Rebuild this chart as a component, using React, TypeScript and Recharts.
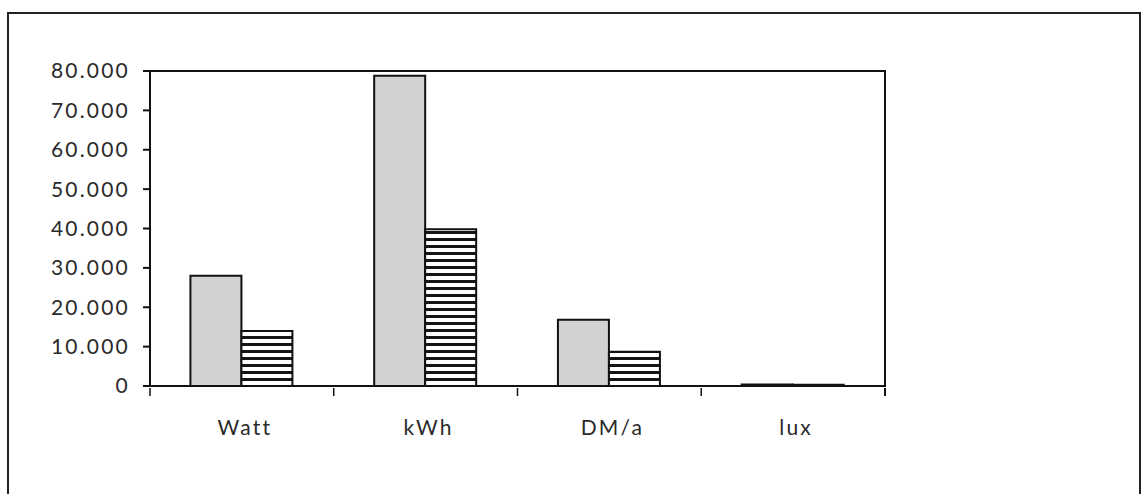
import React from 'react';
import { BarChart, Bar, XAxis, YAxis, CartesianGrid, ReferenceArea } from 'recharts';

const categories = ['Watt', 'kWh', 'DM/a', 'lux'];
const seriesGray = [28000, 78800, 16800, 400];
const seriesHatched = [14000, 39800, 8700, 300];
const yTicks = [0, 10000, 20000, 30000, 40000, 50000, 60000, 70000, 80000];

const data = categories.map((c, i) => ({ cat: c, a: seriesGray[i], b: seriesHatched[i] }));

const fmt = (v: number) => String(v).replace(/\B(?=(\d{3})+(?!\d))/g, '.');

const FONT = 'Lato, "Open Sans", sans-serif';
const tickStyle = { fontSize: 21, fill: '#2a2a2a', fontFamily: FONT, letterSpacing: 2.2 };

const CatTick = (props: any) => {
  const { x, y, payload, index, visibleTicksCount } = props;
  const half = payload.offset || 0;
  const last = index === (visibleTicksCount ?? 4) - 1;
  return (
    <g>
      <line x1={x - half} x2={x - half} y1={y} y2={y + 8} stroke="#111" strokeWidth={1.5} />
      {last && <line x1={x + half} x2={x + half} y1={y} y2={y + 8} stroke="#111" strokeWidth={2} />}
      <text
        x={x + 3}
        y={y + 32}
        dy="0.71em"
        textAnchor="middle"
        fontSize={21}
        fontFamily={FONT}
        letterSpacing={2.2}
        fill="#2a2a2a"
      >
        {payload.value}
      </text>
    </g>
  );
};

export default function App() {
  return (
    <div style={{ position: 'absolute', left: 0, top: 0, width: 1143, height: 494, background: '#fff', overflow: 'hidden' }}>
      <div
        style={{
          position: 'absolute',
          left: 7,
          top: 12,
          width: 1134,
          height: 520,
          border: '2px solid #222',
          boxSizing: 'border-box',
        }}
      />
      <div style={{ position: 'absolute', left: 0, top: 0 }}>
        <BarChart
          width={1143}
          height={494}
          data={data}
          margin={{ top: 71, right: 256, bottom: 78, left: 0 }}
          barCategoryGap="22%"
          barGap={0}
        >
          <defs>
            <pattern id="hatch" width="8" height="7" patternUnits="userSpaceOnUse">
              <rect x="0" y="0" width="8" height="7" fill="#ffffff" />
              <rect x="0" y="0" width="8" height="3" fill="#151515" />
            </pattern>
          </defs>
          <CartesianGrid vertical={false} stroke="#555" strokeWidth={1.2} />
          <ReferenceArea
            yAxisId="left"
            y1={0}
            y2={80000}
            fill="none"
            fillOpacity={0}
            stroke="#111"
            strokeWidth={2}
            strokeOpacity={1}
            ifOverflow="visible"
          />
          <XAxis
            dataKey="cat"
            height={30}
            tickLine={false}
            tickSize={0}
            stroke="#111"
            strokeWidth={2}
            tick={<CatTick />}
          />
          <YAxis
            yAxisId="left"
            domain={[0, 80000]}
            ticks={yTicks}
            width={150}
            tickSize={7}
            tickMargin={13}
            tickFormatter={fmt}
            stroke="#111"
            strokeWidth={2}
            axisLine={{ stroke: '#111', strokeWidth: 2 }}
            tick={tickStyle}
          />
          <YAxis
            yAxisId="right"
            orientation="right"
            domain={[0, 80000]}
            ticks={yTicks}
            width={2}
            tick={false}
            tickLine={false}
            stroke="#111"
            strokeWidth={2}
          />
          <Bar yAxisId="left" dataKey="a" fill="#d2d2d2" stroke="#111" strokeWidth={2} isAnimationActive={false} />
          <Bar yAxisId="right" dataKey="b" fill="url(#hatch)" stroke="#111" strokeWidth={2} isAnimationActive={false} />
        </BarChart>
      </div>
    </div>
  );
}
